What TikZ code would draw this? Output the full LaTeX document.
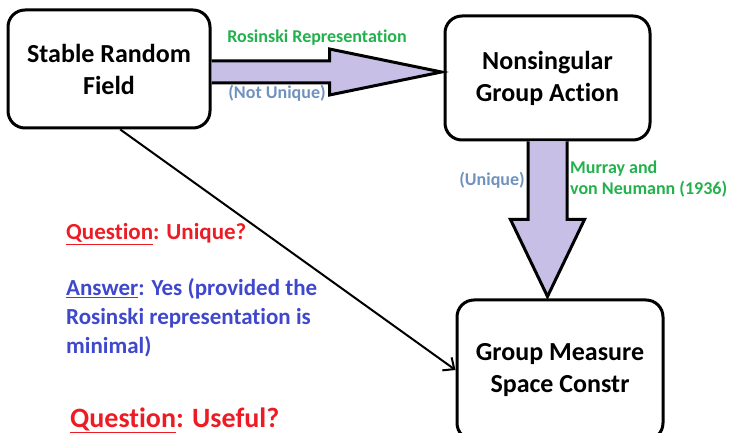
\documentclass[tikz,border=0pt]{standalone}
\usepackage{fontspec}
\setmainfont{Carlito}[Ligatures=NoCommon]
\usetikzlibrary{calc,arrows.meta}
\definecolor{paintgreen}{HTML}{22B14C}
\definecolor{paintslate}{HTML}{7092BE}
\definecolor{paintred}{HTML}{ED1C24}
\definecolor{paintindigo}{HTML}{3F48CC}
\definecolor{lavender}{HTML}{C8BFE7}
\tikzset{
  box/.style={draw=black, line width=3pt, rounded corners=17pt, fill=white,
    align=center, inner sep=0pt, font=\bfseries\fontsize{26}{32}\selectfont},
  fatarrow/.style={draw=black, line width=3pt, fill=lavender, line join=miter},
  greenlbl/.style={text=paintgreen, font=\bfseries\fontsize{18}{21}\selectfont, inner sep=0pt},
  slatelbl/.style={text=paintslate, font=\bfseries\fontsize{18}{21}\selectfont, inner sep=0pt},
  notes/.style={font=\bfseries\fontsize{23}{29}\selectfont, inner sep=0pt, align=left, anchor=west},
}
\begin{document}
\begin{tikzpicture}[x=1pt, y=-1pt]
\useasboundingbox (0,0) rectangle (732,433);
\clip (0,0) rectangle (732,433);

% the three stages
\node[box, minimum width=202pt, minimum height=118pt] (srf) at (109,69)
  {Stable Random\\Field};
\node[box, minimum width=205pt, minimum height=124pt] (nga) at (547.5,78)
  {Nonsingular\\Group Action};
\node[box, minimum width=206pt, minimum height=140pt] (gms) at (560,370)
  {Group Measure\\Space Constr};

% wide arrow: random field -> group action
\coordinate (hs) at (srf.east |- {(0,72)});
\coordinate (he) at ($(nga.west)+(-2,0)$);
\draw[fatarrow] ($(hs)+(0,-11)$) -- ($(hs)+(118,-11)$) -- ($(hs)+(118,-23)$)
  -- (he |- hs) -- ($(hs)+(118,23)$) -- ($(hs)+(118,11)$) -- ($(hs)+(0,11)$);

% wide arrow: group action -> measure space construction
\coordinate (vs) at (nga.south);
\coordinate (ve) at ($(vs |- gms.north)+(0,-2)$);
\draw[fatarrow] ($(vs)+(-19.5,0)$) -- ($(vs)+(-19.5,78)$) -- ($(vs)+(-37,78)$)
  -- (ve) -- ($(vs)+(37,78)$) -- ($(vs)+(19.5,78)$) -- ($(vs)+(19.5,0)$);

% direct link
\draw[line width=2pt, -{Straight Barb[length=9pt,width=16pt,line width=2pt]}]
  ($(srf.south west)!0.555!(srf.south east)$) -- (gms.west);

% arrow labels
\node[greenlbl] (rr) at (317,38) {Rosinski Representation};
\node[slatelbl] (nu) at (277,93) {(Not Unique)};
\node[slatelbl] (un) at (492,180) {(Unique)};
\node[greenlbl, anchor=north west, align=left] (mvn) at (570,161)
  {Murray and\\von Neumann (1936)};

% notes
\node[notes, text=paintred] (q1) at (66,234) {\underline{Question}: Unique?};
\node[notes, text=paintindigo, anchor=north west] (a1) at (66,278)
  {\underline{Answer}: Yes (provided the\\Rosinski representation is\\minimal)};
\node[notes, text=paintred, font=\bfseries\fontsize{28}{29}\selectfont] (q2) at (70,420)
  {\underline{Question}: Useful?};
\end{tikzpicture}
\end{document}
